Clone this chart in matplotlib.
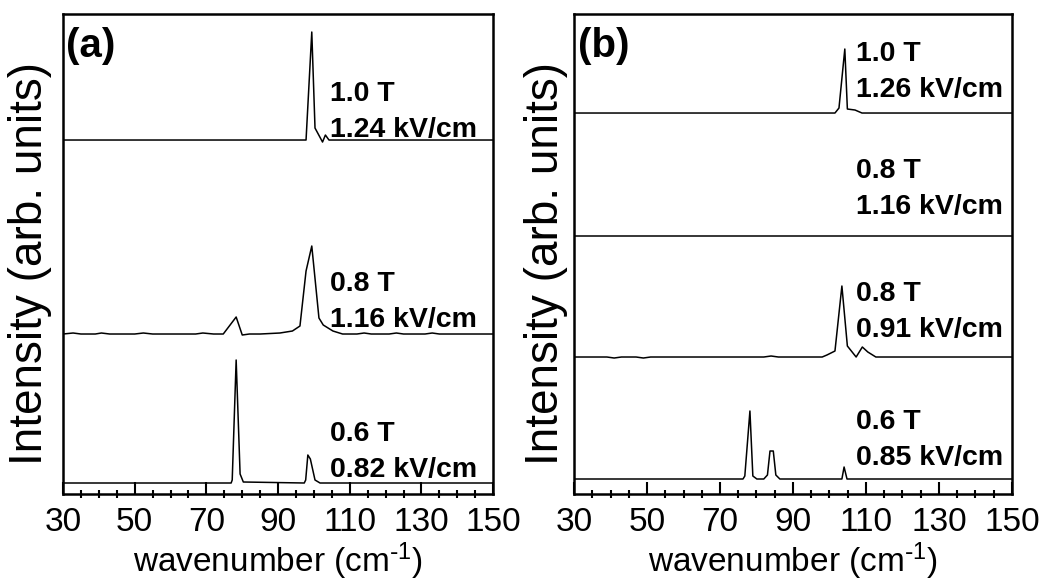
import matplotlib
matplotlib.use("Agg")
import matplotlib.pyplot as plt
from matplotlib.ticker import MultipleLocator

plt.rcParams['font.family'] = ['Liberation Sans', 'DejaVu Sans']
plt.rcParams['mathtext.default'] = 'regular'

# panel (a) spectra: wavenumber (cm-1) and intensity (arb. units)
wn_a10 = [30, 97.8, 99.4, 100.3, 101.2, 102.4, 103.2, 104.2, 150]
in_a10 = [0, 0, 108, 12, 6, -2, 5, 0, 0]

wn_a08 = [30, 32.8, 35, 39, 40.7, 43, 50, 52.4, 55, 67, 69, 72, 74.7, 78.3, 80, 82, 85,
          90.5, 94, 96.1, 97.8, 99.4, 101.4, 102.6, 105.3, 108, 112, 114, 116, 121, 123,
          125, 131, 133, 135, 150]
in_a08 = [0, 1, 0, 0, 1, 0, 0, 1, 0, 0, 1, 0, 0, 17, -1, 0, 0,
          1, 3, 8, 63, 88, 16, 9, 3, 0, 0, 1, 0, 0, 1,
          0, 0, 1, 0, 0]

wn_a06 = [30, 76.9, 77.2, 78.3, 79.4, 80.3, 97.3, 97.7, 98.3, 99.0, 100.3, 101.7, 150]
in_a06 = [0, 0, 3, 123, 9, 1, 0, 3, 28, 24, 3, 0, 0]

# panel (b) spectra
wn_b10 = [30, 101.5, 102.6, 104.2, 104.9, 107.0, 108.9, 150]
in_b10 = [0, 0, 5, 64, 4, 3, 0, 0]

wn_b08 = [30, 150]
in_b08 = [0, 0]

wn_b09 = [30, 39, 41, 43, 47, 49, 51, 82, 84, 86, 98, 99.3, 101.5, 103.4, 104.9,
          107.3, 109, 110.5, 112.7, 150]
in_b09 = [0, 0, -1, 0, 0, -1, 0, 0, 1, 0, 0, 2, 6, 71, 11,
          0, 10, 5, 0, 0]

wn_b06 = [30, 76.3, 76.8, 78.2, 79.0, 80.1, 82, 83, 83.7, 84.6, 85.3, 86.4,
          103.4, 104, 104.8, 150]
in_b06 = [0, 0, 3, 68, 3, 0, 0, 4, 28, 28, 4, 0,
          0, 12, 0, 0]

labels_a = ["1.0 T\n1.24 kV/cm", "0.8 T\n1.16 kV/cm", "0.6 T\n0.82 kV/cm"]
labels_b = ["1.0 T\n1.26 kV/cm", "0.8 T\n1.16 kV/cm", "0.8 T\n0.91 kV/cm", "0.6 T\n0.85 kV/cm"]
xticks = [30, 50, 70, 90, 110, 130, 150]

# vertical stacking offsets and label heights
offsets_a = [354, 160, 11]
offsets_b = [381, 258, 137, 15]
label_y_a = [357, 167, 17]
label_y_b = [397, 280, 157, 29]

spectra_a = [(wn_a10, in_a10), (wn_a08, in_a08), (wn_a06, in_a06)]
spectra_b = [(wn_b10, in_b10), (wn_b08, in_b08), (wn_b09, in_b09), (wn_b06, in_b06)]

fig = plt.figure(figsize=(10.49, 5.82), dpi=100)
ax1 = fig.add_axes([0.0601, 0.1512, 0.410, 0.8247])
ax2 = fig.add_axes([0.5472, 0.1512, 0.4175, 0.8247])


def draw_panel(ax, spectra, offsets, labels, label_y, label_x, tag, ylab_x):
    for (wn, inten), off in zip(spectra, offsets):
        ax.plot(wn, [v + off for v in inten], color='black', lw=1.1)
    for lab, ly in zip(labels, label_y):
        ax.text(label_x, ly, lab, fontsize=20.5, fontweight='bold', va='baseline',
                ha='left', linespacing=1.5)
    ax.text(0.008, 0.972, tag, transform=ax.transAxes, fontsize=29,
            fontweight='bold', va='top', ha='left')
    ax.set_xlim(30, 150)
    ax.set_ylim(0, 480)
    ax.set_yticks([])
    ax.set_xticks(xticks)
    ax.xaxis.set_minor_locator(MultipleLocator(5))
    ax.tick_params(axis='x', which='major', direction='in', length=8.5, width=1.5,
                   labelsize=24, pad=9)
    ax.tick_params(axis='x', which='minor', direction='inout', length=6, width=1.5)
    for s in ax.spines.values():
        s.set_linewidth(1.8)
    ax.set_xlabel('wavenumber (cm$^{\\text{-}1}$)', fontsize=24, labelpad=2)
    ax.set_ylabel('Intensity (arb. units)', fontsize=33)
    ax.yaxis.set_label_coords(ylab_x, 0.48)


draw_panel(ax1, spectra_a, offsets_a, labels_a, label_y_a, 104.5, '(a)', -0.025)
draw_panel(ax2, spectra_b, offsets_b, labels_b, label_y_b, 107.3, '(b)', -0.014)

fig.savefig('out.png', dpi=100)
